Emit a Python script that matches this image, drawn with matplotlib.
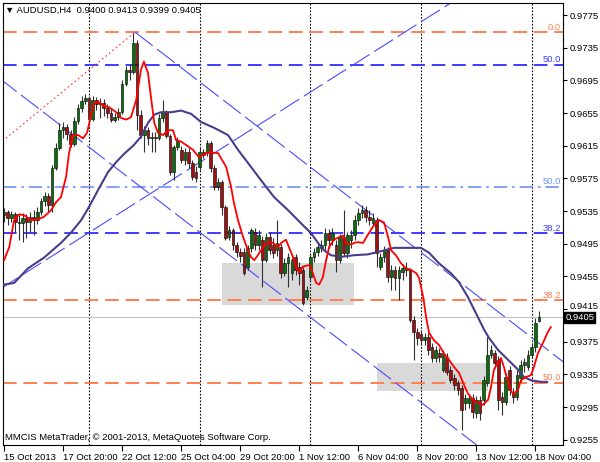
import numpy as np
import matplotlib.pyplot as plt
from matplotlib.patches import Rectangle
from matplotlib.transforms import blended_transform_factory, ScaledTranslation

plt.rcParams['font.family'] = ['Liberation Sans', 'DejaVu Sans']

# ---- AUDUSD H4 candles (bar index 0 = 15 Oct 04:00) ----
opens = [
    .9530, .9534, .9527, .9532, .9522, .9520, .9527, .9522, .9528, .9524,
    .9534, .9547, .9554, .9543, .9588, .9612, .9634, .9638, .9629, .9617,
    .9645, .9661, .9670, .9673, .9648, .9671, .9666, .9667, .9661, .9655,
    .9647, .9650, .9656, .9691, .9708, .9705, .9741, .9653, .9628, .9634,
    .9625, .9626, .9625, .9649, .9656, .9627, .9583, .9614, .9610, .9598,
    .9607, .9594, .9583, .9589, .9607, .9606, .9618, .9588, .9565, .9571,
    .9540, .9503, .9512, .9494, .9485, .9485, .9467, .9490, .9509, .9494,
    .9500, .9475, .9503, .9494, .9487, .9491, .9459, .9472, .9459, .9479,
    .9467, .9463, .9430, .9454, .9479, .9485, .9490, .9494, .9508, .9500,
    .9494, .9475, .9503, .9484, .9500, .9506, .9524, .9533, .9536, .9528,
    .9520, .9524, .9467, .9479, .9487, .9454, .9463, .9453, .9460, .9463,
    .9463, .9402, .9387, .9385, .9377, .9381, .9369, .9355, .9361, .9341,
    .9356, .9341, .9331, .9325, .9319, .9300, .9300, .9306, .9288, .9304,
    .9304, .9325, .9359, .9361, .9353, .9307, .9301, .9341, .9312, .9307,
    .9331, .9347, .9344, .9359, .9369, .9400]
highs = [
    .9539, .9536, .9535, .9534, .9530, .9533, .9532, .9534, .9536, .9540,
    .9551, .9558, .9557, .9591, .9618, .9643, .9644, .9642, .9634, .9650,
    .9666, .9676, .9678, .9676, .9676, .9675, .9673, .9672, .9666, .9661,
    .9655, .9661, .9696, .9713, .9715, .9753, .9744, .9659, .9639, .9638,
    .9632, .9632, .9654, .9671, .9659, .9629, .9616, .9626, .9615, .9612,
    .9612, .9598, .9590, .9612, .9611, .9622, .9621, .9591, .9576, .9573,
    .9543, .9517, .9514, .9497, .9490, .9490, .9494, .9514, .9514, .9512,
    .9505, .9508, .9509, .9502, .9524, .9495, .9478, .9484, .9478, .9483,
    .9473, .9467, .9443, .9484, .9490, .9496, .9500, .9514, .9513, .9514,
    .9500, .9507, .9536, .9509, .9512, .9530, .9539, .9543, .9541, .9536,
    .9533, .9528, .9484, .9492, .9491, .9469, .9468, .9468, .9470, .9473,
    .9465, .9407, .9392, .9390, .9386, .9386, .9374, .9370, .9367, .9365,
    .9361, .9345, .9336, .9328, .9322, .9311, .9311, .9311, .9309, .9309,
    .9333, .9381, .9371, .9365, .9358, .9314, .9337, .9345, .9319, .9341,
    .9353, .9355, .9365, .9374, .9404, .9413]
lows = [
    .9522, .9518, .9522, .9509, .9500, .9497, .9502, .9509, .9506, .9519,
    .9530, .9541, .9534, .9534, .9585, .9610, .9625, .9622, .9614, .9615,
    .9642, .9656, .9666, .9644, .9645, .9659, .9649, .9651, .9649, .9644,
    .9644, .9647, .9654, .9688, .9696, .9703, .9634, .9625, .9607, .9616,
    .9607, .9607, .9622, .9644, .9625, .9579, .9573, .9610, .9594, .9591,
    .9588, .9573, .9571, .9585, .9600, .9603, .9583, .9561, .9561, .9530,
    .9500, .9500, .9487, .9479, .9473, .9457, .9463, .9485, .9487, .9487,
    .9442, .9473, .9483, .9478, .9480, .9453, .9456, .9442, .9451, .9457,
    .9445, .9420, .9426, .9451, .9473, .9480, .9485, .9487, .9490, .9494,
    .9461, .9472, .9480, .9478, .9490, .9500, .9518, .9527, .9522, .9518,
    .9517, .9467, .9463, .9473, .9448, .9438, .9438, .9426, .9451, .9456,
    .9399, .9353, .9371, .9371, .9371, .9359, .9350, .9350, .9350, .9338,
    .9334, .9325, .9316, .9310, .9267, .9292, .9294, .9282, .9282, .9279,
    .9298, .9321, .9355, .9343, .9292, .9285, .9298, .9310, .9300, .9304,
    .9326, .9338, .9341, .9355, .9363, .9399]
closes = [
    .9534, .9527, .9532, .9522, .9520, .9527, .9522, .9528, .9524, .9534,
    .9547, .9554, .9543, .9588, .9612, .9634, .9638, .9629, .9617, .9645,
    .9661, .9670, .9673, .9648, .9671, .9666, .9667, .9661, .9655, .9647,
    .9650, .9656, .9691, .9708, .9705, .9741, .9653, .9628, .9634, .9625,
    .9626, .9625, .9649, .9656, .9627, .9583, .9614, .9621, .9598, .9607,
    .9594, .9577, .9576, .9607, .9604, .9618, .9588, .9565, .9571, .9540,
    .9502, .9512, .9494, .9485, .9480, .9459, .9490, .9512, .9494, .9506,
    .9475, .9503, .9487, .9484, .9496, .9459, .9472, .9479, .9475, .9463,
    .9459, .9423, .9438, .9479, .9485, .9491, .9494, .9508, .9500, .9508,
    .9475, .9503, .9484, .9506, .9506, .9524, .9533, .9536, .9528, .9524,
    .9527, .9484, .9479, .9487, .9454, .9463, .9453, .9463, .9465, .9465,
    .9402, .9387, .9380, .9377, .9381, .9365, .9355, .9365, .9356, .9361,
    .9338, .9328, .9322, .9316, .9292, .9306, .9306, .9289, .9304, .9288,
    .9328, .9359, .9365, .9349, .9304, .9301, .9332, .9316, .9307, .9334,
    .9347, .9350, .9359, .9369, .9398, .9405]

# moving averages (shifted forward a few bars)
fast_ma_x = [0, 1.4, 2.7, 4.1, 5.4, 7.3, 9.2, 10.8, 12.7, 14.1, 15.4, 16.8, 17.6, 18.7,
             20.1, 21.4, 22.5, 23.3, 24.4, 25.5, 26.8, 28.5, 30.4, 31.7, 33.1, 34.4, 35.8,
             37.1, 37.9, 39.0, 39.8, 40.7, 41.7, 43.1, 44.4, 45.8, 46.6, 48.0, 49.3, 51.2,
             52.8, 55.3, 58.0, 60.2, 61.5, 62.3, 63.4, 64.8, 66.1, 66.9, 67.8, 68.8, 70.2,
             71.5, 72.9, 74.3, 75.1, 76.4, 77.2, 78.3, 79.1, 79.9, 81.0, 81.8, 82.9, 83.7,
             84.6, 85.4, 86.4, 87.3, 88.1, 89.4, 90.8, 91.9, 92.7, 94.0, 94.9, 95.9, 97.3,
             98.6, 100.0, 101.6, 103.0, 104.1, 104.9, 106.2, 107.6, 108.9, 110.3, 111.7,
             112.5, 113.6, 114.4, 115.2, 116.5, 117.9, 119.2, 120.6, 122.0, 123.3, 124.4,
             125.7, 127.1, 128.5, 129.8, 131.2, 132.0, 132.8, 133.9, 134.7, 135.5, 136.6,
             137.4, 138.2, 139.3, 140.1, 141.5, 142.8, 143.6, 144.7, 146.1, 147.4, 148.2]
fast_ma_y = [.9475, .9491, .9524, .9531, .9530, .9524, .9525, .9528, .9536, .9546, .9552,
             .9577, .9606, .9628, .9628, .9624, .9631, .9647, .9667, .9669, .9664, .9662,
             .9656, .9649, .9647, .9650, .9671, .9708, .9718, .9704, .9675, .9643, .9631,
             .9628, .9634, .9634, .9622, .9620, .9616, .9610, .9601, .9607, .9606, .9589,
             .9565, .9545, .9524, .9503, .9487, .9479, .9475, .9481, .9491, .9497, .9496,
             .9491, .9496, .9500, .9491, .9479, .9467, .9460, .9467, .9468, .9469, .9459,
             .9447, .9445, .9454, .9475, .9491, .9500, .9503, .9505, .9496, .9494, .9496,
             .9497, .9496, .9506, .9516, .9524, .9521, .9503, .9487, .9481, .9471, .9465,
             .9463, .9459, .9453, .9430, .9405, .9386, .9377, .9371, .9361, .9353, .9344,
             .9337, .9325, .9312, .9304, .9300, .9298, .9304, .9320, .9341, .9350, .9355,
             .9344, .9325, .9314, .9312, .9316, .9328, .9332, .9334, .9344, .9361, .9374,
             .9387, .9393]
slow_ma_x = [0, 2.7, 6.5, 10.8, 15.4, 18.2, 20.9, 23.0, 25.5, 28.2, 30.4, 32.5, 35.0, 37.1,
             39.0, 40.7, 42.5, 45.3, 48.0, 50.7, 53.4, 56.9, 60.7, 63.4, 66.1, 69.6, 73.2,
             77.0, 80.5, 83.2, 85.1, 86.7, 88.6, 91.3, 94.9, 98.6, 102.2, 105.7, 113.0,
             115.2, 117.9, 121.1, 123.3, 125.7, 127.9, 130.1, 131.4, 133.9, 136.6, 139.3,
             140.9, 142.8, 145.5, 147.2]
slow_ma_y = [.9445, .9447, .9465, .9478, .9496, .9509, .9524, .9540, .9561, .9583, .9595,
             .9605, .9615, .9626, .9643, .9653, .9656, .9656, .9658, .9654, .9644, .9637,
             .9628, .9610, .9594, .9573, .9552, .9536, .9520, .9508, .9496, .9487, .9481,
             .9479, .9481, .9482, .9486, .9490, .9490, .9484, .9471, .9459, .9448, .9430,
             .9410, .9390, .9380, .9365, .9353, .9341, .9332, .9328, .9326, .9326]

# fibonacci levels: (price, label, colour, style)
fib_prices = [0.9754, 0.9714, 0.9565, 0.9508, 0.9426, 0.9325]
fib_labels = ['0.0', '50.0', '50.0', '38.2', '38.2', '50.0']
fib_colors = ['#ff7f50', '#3c3cff', '#6f8fff', '#3c3cff', '#ff7f50', '#ff7f50']
fib_styles = ['dash', 'dash', 'dashdot', 'dash', 'dash', 'dash']

# channel / trend lines as (x0, y0, x1, y1) in bars and price
channel_lines = [(35.5, 0.9754, 156, 0.9335),
                 (-2, 0.9700, 130, 0.9242),
                 (-2, 0.9437, 125, 0.9801)]
fib_trend = (-2, 0.9615, 35.5, 0.9754)

# grey zones: (bar from, bar to, price low, price high)
zones = [(59.1, 94.9, 0.9420, 0.9472), (101.1, 131.2, 0.9315, 0.9349)]

week_starts = [23, 53, 83, 113, 143]
xtick_pos = [0, 16, 32, 48, 64, 80, 96, 112, 128, 144]
xtick_labels = ['15 Oct 2013', '17 Oct 20:00', '22 Oct 12:00', '25 Oct 04:00',
                '29 Oct 20:00', '1 Nov 12:00', '6 Nov 04:00', '8 Nov 20:00',
                '13 Nov 12:00', '18 Nov 04:00']
ytick_vals = [0.9255, 0.9295, 0.9335, 0.9375, 0.9415, 0.9455, 0.9495, 0.9535,
              0.9575, 0.9615, 0.9655, 0.9695, 0.9735, 0.9775]
bid = 0.9405

fs = 6.8
fig = plt.figure(figsize=(6, 4.62), dpi=100)
ax = fig.add_axes([3 / 600, 17 / 462, 560 / 600, 442 / 462])
ax.set_xlim(-0.3, 151.5)
ax.set_ylim(0.92487, 0.97897)
trans = blended_transform_factory(ax.transAxes, ax.transData)

for z in zones:
    ax.add_patch(Rectangle((z[0], z[2]), z[1] - z[0], z[3] - z[2],
                           facecolor='#d9d9d9', edgecolor='none', zorder=0.5))

for w in week_starts:
    ax.axvline(w, color='black', lw=0.8, dashes=(1.5, 1.5), zorder=1)

ax.axhline(bid, color='#c0c0c0', lw=0.8, zorder=1)

for p, lab, col, st in zip(fib_prices, fib_labels, fib_colors, fib_styles):
    if st == 'dash':
        ax.axhline(p, color=col, lw=1.4, dashes=(7, 3.5), zorder=2)
    else:
        ax.axhline(p, color=col, lw=1.2, dashes=(8, 3, 1.5, 3), zorder=2)
    ax.text(0.9965, p + 0.00005, lab, transform=trans, ha='right', va='bottom',
            color=col, fontsize=fs, zorder=6)

for x0, y0, x1, y1 in channel_lines:
    ax.plot([x0, x1], [y0, y1], color='#4a4aff', lw=0.8, dashes=(20, 5), zorder=2)
ax.plot(fib_trend[0::2], fib_trend[1::2], color='#ff3030', lw=0.8,
        dashes=(1.5, 2.5), zorder=2)

# candles
o = np.array(opens)
h = np.array(highs)
l = np.array(lows)
c = np.array(closes)
idx = np.arange(len(o))
ax.vlines(idx, l, h, color='#303030', lw=0.8, zorder=3)
up = c >= o
body = np.maximum(np.abs(c - o), 0.00006)
ax.bar(idx, body, bottom=np.minimum(o, c), width=0.72,
       color=np.where(up, '#0a6e0a', '#a01010'), edgecolor='black', lw=0.4, zorder=4)

ax.plot(slow_ma_x, slow_ma_y, color='#483d8b', lw=1.5, zorder=5)
ax.plot(fast_ma_x, fast_ma_y, color='red', lw=1.3, zorder=5)

# axes styling
ax.yaxis.tick_right()
ax.set_yticks(ytick_vals)
ax.set_yticklabels([f'{v:.4f}' for v in ytick_vals])
ax.tick_params(axis='y', length=3, width=0.8, pad=2, labelsize=fs)
for t in ax.get_yticklabels():
    if t.get_text() == '0.9415':
        t.set_transform(t.get_transform() + ScaledTranslation(0, 4 / 100, fig.dpi_scale_trans))
ax.set_xticks(xtick_pos)
ax.set_xticklabels(xtick_labels)
ax.tick_params(axis='x', length=4, width=0.8, pad=1.5, labelsize=fs)
for t in ax.get_xticklabels():
    t.set_horizontalalignment('left')
for s in ax.spines.values():
    s.set_linewidth(0.8)
    s.set_color('black')

ax.text(0.003, 0.993, '▼ AUDUSD,H4  0.9400 0.9413 0.9399 0.9405', transform=ax.transAxes,
        ha='left', va='top', fontsize=fs, zorder=7)
ax.text(0.003, 0.006, 'MMCIS MetaTrader, © 2001-2013, MetaQuotes Software Corp.',
        transform=ax.transAxes, ha='left', va='bottom', fontsize=fs, zorder=7)
ax.text(1.004, bid, '0.9405', transform=trans, ha='left', va='center', color='white',
        fontsize=fs, zorder=7,
        bbox=dict(boxstyle='square,pad=0.1', facecolor='black', edgecolor='black'))

fig.savefig('out.png', dpi=100)
